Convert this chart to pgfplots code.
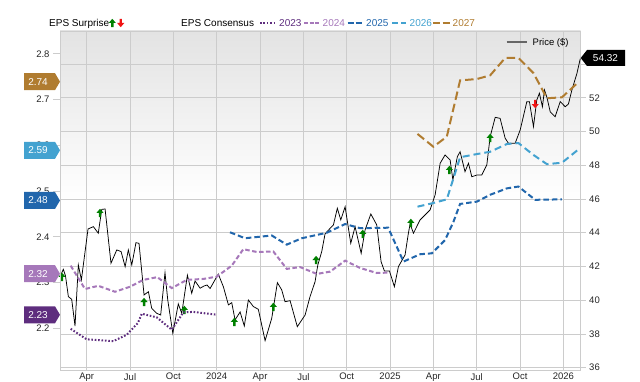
\documentclass[border=0pt]{standalone}
\usepackage{pgfplots}
\pgfplotsset{compat=1.18}
\usepackage{fontspec}
\setmainfont{Liberation Sans}

\definecolor{cA}{RGB}{94,45,126}
\definecolor{cB}{RGB}{166,120,186}
\definecolor{cC}{RGB}{33,102,172}
\definecolor{cD}{RGB}{67,162,208}
\definecolor{cE}{RGB}{176,124,48}
\definecolor{upg}{RGB}{0,128,0}
\definecolor{dnr}{RGB}{240,20,20}
\definecolor{gridc}{RGB}{204,204,204}

\pgfdeclareplotmark{uparr}{%
 \pgfpathmoveto{\pgfpoint{-3.6pt}{0pt}}%
 \pgfpathlineto{\pgfpoint{0pt}{4.2pt}}%
 \pgfpathlineto{\pgfpoint{3.6pt}{0pt}}%
 \pgfpathlineto{\pgfpoint{1.2pt}{0pt}}%
 \pgfpathlineto{\pgfpoint{1.2pt}{-4.2pt}}%
 \pgfpathlineto{\pgfpoint{-1.2pt}{-4.2pt}}%
 \pgfpathlineto{\pgfpoint{-1.2pt}{0pt}}%
 \pgfpathclose\pgfusepathqfill}
\pgfdeclareplotmark{dnarr}{%
 \pgfpathmoveto{\pgfpoint{-3.6pt}{0pt}}%
 \pgfpathlineto{\pgfpoint{0pt}{-4.2pt}}%
 \pgfpathlineto{\pgfpoint{3.6pt}{0pt}}%
 \pgfpathlineto{\pgfpoint{1.2pt}{0pt}}%
 \pgfpathlineto{\pgfpoint{1.2pt}{4.2pt}}%
 \pgfpathlineto{\pgfpoint{-1.2pt}{4.2pt}}%
 \pgfpathlineto{\pgfpoint{-1.2pt}{0pt}}%
 \pgfpathclose\pgfusepathqfill}

\pgfplotstableread{
m p
1.15 41.39
1.38 41.83
1.53 41.44
1.73 40.21
1.96 40.05
2.19 38.47
2.42 42.09
2.63 41.20
3.09 44.22
3.46 44.36
3.80 43.97
4.04 45.38
4.27 45.41
4.68 42.19
5.08 42.98
5.38 42.88
5.66 41.99
5.88 42.98
6.12 42.09
6.41 43.41
6.62 43.37
6.97 40.31
7.27 40.50
7.50 39.52
7.85 39.22
8.12 39.12
8.42 41.63
8.61 40.01
8.96 38.04
9.34 39.78
9.58 39.22
9.97 41.48
10.27 40.41
10.50 41.14
10.85 40.71
11.12 40.84
11.33 40.90
11.54 40.69
12.11 41.55
12.46 40.80
12.81 39.72
13.04 39.85
13.27 38.83
13.62 39.30
13.91 38.47
14.19 40.01
14.54 39.62
14.88 39.46
15.35 37.60
15.81 38.93
16.20 41.04
16.50 40.61
16.73 39.91
17.08 39.97
17.58 38.43
18.12 39.12
18.46 40.21
18.81 41.10
19.00 42.09
19.27 42.88
19.50 43.93
19.85 44.26
20.08 44.46
20.35 45.45
20.59 44.76
20.89 45.54
21.28 43.37
21.58 44.36
22.00 42.78
22.27 44.16
22.67 45.11
23.08 44.46
23.38 42.28
23.61 41.73
23.96 41.73
24.30 40.80
24.58 41.99
25.04 42.68
25.27 43.97
25.39 44.52
25.62 43.97
26.08 44.76
26.77 45.35
27.12 46.24
27.47 48.12
27.81 48.61
28.16 48.31
28.35 47.13
28.66 48.51
28.85 48.80
29.19 47.62
29.43 48.12
29.66 47.32
30.01 47.42
30.35 47.42
30.70 48.02
30.93 49.69
31.28 50.84
31.62 50.78
31.97 49.60
32.20 49.30
32.66 49.30
33.01 50.09
33.47 51.77
33.65 51.77
33.93 50.29
34.16 51.87
34.34 52.27
34.55 51.47
34.69 52.46
34.86 52.03
35.09 51.17
35.43 50.88
35.78 51.77
36.13 51.47
36.35 51.63
36.59 52.46
36.94 53.45
37.17 54.32
}\price

\pgfplotstableread{
m e
1.89 2.199
3.00 2.176
4.84 2.172
5.77 2.186
6.55 2.212
6.81 2.232
7.85 2.224
8.89 2.197
9.69 2.235
10.38 2.236
11.95 2.230
}\epsA

\pgfplotstableread{
m e
1.89 2.337
2.88 2.286
3.80 2.293
4.96 2.280
6.00 2.291
6.92 2.306
7.89 2.312
8.89 2.288
9.93 2.306
11.07 2.308
12.00 2.313
13.04 2.337
13.84 2.373
14.77 2.367
15.92 2.368
16.85 2.330
17.77 2.334
18.93 2.319
19.85 2.324
20.89 2.348
21.93 2.332
23.08 2.321
24.00 2.322
}\epsB

\pgfplotstableread{
m e
12.92 2.410
13.96 2.397
15.81 2.403
16.85 2.383
17.89 2.397
19.62 2.409
20.89 2.428
21.93 2.419
23.87 2.420
24.93 2.346
26.08 2.362
26.89 2.364
27.81 2.393
28.39 2.433
28.85 2.472
30.01 2.477
30.93 2.492
32.09 2.506
32.89 2.510
34.05 2.481
35.90 2.482
}\epsC

\pgfplotstableread{
m e
25.90 2.466
27.00 2.474
27.93 2.482
28.85 2.574
30.01 2.581
30.93 2.586
32.09 2.603
32.89 2.605
33.93 2.579
34.86 2.559
35.90 2.562
37.00 2.590
}\epsD

\pgfplotstableread{
m e
25.90 2.625
27.00 2.597
27.93 2.619
28.85 2.742
30.01 2.745
30.93 2.753
31.97 2.791
32.89 2.791
33.93 2.758
34.86 2.703
35.90 2.705
37.00 2.737
}\epsE

\pgfplotstableread{
m p
1.29 41.38
3.92 45.17
6.97 39.89
9.76 39.42
13.22 38.71
15.92 39.60
18.88 42.38
22.11 43.93
25.44 44.58
28.11 47.72
30.93 49.62
}\beats

\pgfplotstableread{
m p
34.05 51.63
}\misses

\begin{document}
\begin{tikzpicture}[x=1pt,y=1pt]
\useasboundingbox (0,0) rectangle (640,382);
\begin{axis}[
  at={(60pt,12pt)}, anchor=south west,
  scale only axis, width=520.7pt, height=339pt,
  xmin=1.15, xmax=37.2, ymin=35.86, ymax=55.96,
  xtick={3,6,9,12,15,18,21,24,27,30,33,36},
  xticklabels={Apr,Jul,Oct,2024,Apr,Jul,Oct,2025,Apr,Jul,Oct,2026},
  ytick={36,38,40,42,44,46,48,50,52,54},
  yticklabels={36,38,40,42,44,46,48,50,52,{}},
  ytick pos=right, yticklabel pos=right,
  xtick pos=bottom,
  x tick style={draw=none},
  y tick style={gridc, line width=0.8pt},
  tick align=outside, major tick length=5pt,
  grid=major, grid style={gridc, line width=0.8pt},
  axis line style={gridc, line width=0.8pt},
  axis background/.style={top color=black!11, bottom color=white, middle color=white},
  tick label style={font=\fontsize{9.5}{11}\selectfont, text=black!85},
  xticklabel style={inner ysep=1pt, yshift=3pt},
  /pgf/number format/assume math mode=true,
]
\addplot[black, line width=0.75pt] table[x=m,y=p] {\price};
\addplot[only marks, mark=uparr, color=upg] table[x=m,y=p] {\beats};
\addplot[only marks, mark=dnarr, color=dnr] table[x=m,y=p] {\misses};
\end{axis}
\begin{axis}[
  at={(60pt,12pt)}, anchor=south west,
  scale only axis, width=520.7pt, height=339pt,
  xmin=1.15, xmax=37.2, ymin=2.109, ymax=2.850,
  hide x axis, axis y line*=left,
  ytick={2.2,2.3,2.4,2.5,2.6,2.7,2.8},
  y tick style={gridc, line width=0.8pt},
  tick align=outside, major tick length=7pt,
  axis line style={gridc, line width=0.8pt},
  tick label style={font=\fontsize{9.5}{11}\selectfont, text=black!85},
  yticklabel style={/pgf/number format/.cd, fixed, precision=1, zerofill},
  /pgf/number format/assume math mode=true,
]
\addplot[cA, line width=2pt, dash pattern=on 1.6pt off 1.8pt] table[x=m,y=e] {\epsA};
\addplot[cB, line width=2pt, dash pattern=on 4.5pt off 2.5pt] table[x=m,y=e] {\epsB};
\addplot[cC, line width=2pt, dash pattern=on 5.5pt off 3pt] table[x=m,y=e] {\epsC};
\addplot[cD, line width=2pt, dash pattern=on 7pt off 4pt] table[x=m,y=e] {\epsD};
\addplot[cE, line width=2pt, dash pattern=on 8.5pt off 4pt] table[x=m,y=e] {\epsE};
\end{axis}

% top legend
\node[anchor=base west, inner sep=0pt, font=\fontsize{10}{12}\selectfont] at (49,355) {EPS Surprise};
\fill[upg] (108.7,359) -- (112.3,363.2) -- (115.9,359) -- (113.5,359) -- (113.5,354.8) -- (111.1,354.8) -- (111.1,359) -- cycle;
\fill[dnr] (117.1,359) -- (120.7,354.8) -- (124.3,359) -- (121.9,359) -- (121.9,363.2) -- (119.5,363.2) -- (119.5,359) -- cycle;
\node[anchor=base west, inner sep=0pt, font=\fontsize{10}{12}\selectfont] at (181,355) {EPS Consensus};
\draw[cA, line width=2pt, dash pattern=on 1.6pt off 1.8pt] (260,359) -- (276,359);
\node[anchor=base west, inner sep=0pt, text=cA, font=\fontsize{10}{12}\selectfont] at (279,355) {2023};
\draw[cB, line width=2pt, dash pattern=on 4pt off 1.5pt] (304,359) -- (320,359);
\node[anchor=base west, inner sep=0pt, text=cB, font=\fontsize{10}{12}\selectfont] at (322.5,355) {2024};
\draw[cC, line width=2pt, dash pattern=on 6pt off 2pt] (347.5,359) -- (363,359);
\node[anchor=base west, inner sep=0pt, text=cC, font=\fontsize{10}{12}\selectfont] at (366,355) {2025};
\draw[cD, line width=2pt, dash pattern=on 5.5pt off 3.5pt] (392,359) -- (406,359);
\node[anchor=base west, inner sep=0pt, text=cD, font=\fontsize{10}{12}\selectfont] at (409.5,355) {2026};
\draw[cE, line width=2pt, dash pattern=on 7pt off 2.5pt] (433,359) -- (450,359);
\node[anchor=base west, inner sep=0pt, text=cE, font=\fontsize{10}{12}\selectfont] at (452.5,355) {2027};

% price legend
\draw[black!60, line width=2pt] (506.7,340.3) -- (526.7,340.3);
\node[anchor=base west, inner sep=0pt, font=\fontsize{9.5}{11}\selectfont] at (532.5,336.8) {Price (\$)};

% left value tags
\foreach \yc/\col/\txt in {300.3/cE/2.74, 231.7/cD/2.59, 181.5/cC/2.48, 108.3/cB/2.32, 67.2/cA/2.23}{
  \fill[\col] (24,\yc-8.5) -- (55,\yc-8.5) -- (60,\yc) -- (55,\yc+8.5) -- (24,\yc+8.5) -- cycle;
  \node[text=white, inner sep=0pt, font=\fontsize{10}{12}\selectfont] at (38,\yc) {\txt};
}
% right price tag
\fill[black] (580.7,324) -- (587,332) -- (625,332) -- (625,316) -- (587,316) -- cycle;
\node[text=white, inner sep=0pt, font=\fontsize{10}{12}\selectfont] at (605.5,324) {54.32};
\end{tikzpicture}
\end{document}
